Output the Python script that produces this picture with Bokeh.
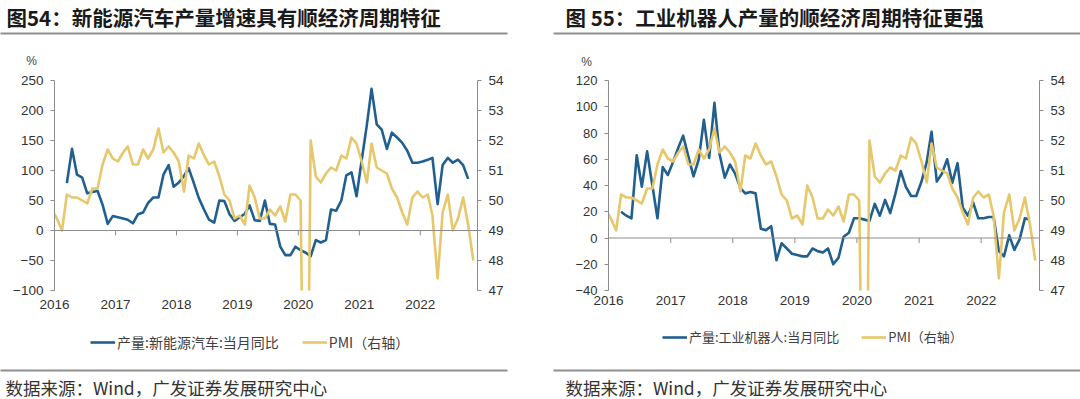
import pandas as pd
from bokeh.plotting import figure
from bokeh.models import (Range1d, LinearAxis, FixedTicker, DatetimeTickFormatter,
                          Legend, LegendItem, Span, Label)
from bokeh.layouts import row, column
from bokeh.embed import file_html
from bokeh.resources import INLINE

# ---------------- data ----------------
years = ["2016", "2017", "2018", "2019", "2020", "2021", "2022"]

pmi_first_month = "2015-12"
pmi = [49.7,
       49.4, 49.0, 50.2, 50.1, 50.1, 50.0, 49.9, 50.4, 50.4, 51.2, 51.7, 51.4,
       51.3, 51.6, 51.8, 51.2, 51.2, 51.7, 51.4, 51.7, 52.4, 51.6, 51.8, 51.6,
       51.3, 50.3, 51.5, 51.4, 51.9, 51.5, 51.2, 51.3, 50.8, 50.2, 50.0, 49.4,
       49.5, 49.2, 50.5, 50.1, 49.4, 49.4, 49.7, 49.5, 49.8, 49.3, 50.2, 50.2,
       50.0, 35.7, 52.0, 50.8, 50.6, 50.9, 51.1, 51.0, 51.5, 51.4, 52.1, 51.9,
       51.3, 50.6, 51.9, 51.1, 51.0, 50.9, 50.4, 50.1, 49.6, 49.2, 50.1, 50.3,
       50.1, 50.2, 49.5, 47.4, 49.6, 50.2, 49.0, 49.4, 50.1, 49.2, 48.0]

yoy_first_month = "2016-03"
nev_yoy = [79, 136, 93, 88, 62, 64, 66, 43, 11, 24,
           22, 20, 18, 12, 27, 30, 46, 55, 55, 93, 109, 73,
           80, 91, 104, 79, 54, 35, 18, 13, 50, 49, 27, 16,
           22, 28, 42, 17, 16, 50, 11, 10, -27, -41, -41, -27,
           -33, -37, -43, -16, -20, -16, 35, 33, 50, 92, 97, 57,
           117, 176, 236, 177, 168, 136, 163, 155, 146, 133, 113, 113,
           115, 118, 121, 44, 109, 121, 113, 118, 109, 86]

robot_yoy = [20, 17, 15, 63, 39, 66, 40, 15, 54, 48,
             58, 69, 78, 62, 47, 60, 90, 61, 103, 64, 46, 56,
             49, 38, 34, 35, 34, 7, 6, 9, -17, -4, -8, -12,
             -13, -14, -14, -8, -10, -11, -8, -20, -15, 1, 4, 15,
             15, 14, 13, 26, 17, 29, 19, 34, 51, 39, 32, 32,
             43, 58, 81, 43, 49, 60, 42, 57, 23, 17, 27, 15,
             15, 16, 16, -10, -14, 2, -9, -1, 15, 14]

titles = ["图54：新能源汽车产量增速具有顺经济周期特征", "图 55：工业机器人产量的顺经济周期特征更强"]
series_names = ["产量:新能源汽车:当月同比", "产量:工业机器人:当月同比"]
pmi_name = "PMI（右轴）"
source_text = "数据来源：Wind，广发证券发展研究中心"
unit_text = "%"

left_ticks_a = [-100, -50, 0, 50, 100, 150, 200, 250]
left_ticks_b = [-40, -20, 0, 20, 40, 60, 80, 100, 120]
pmi_ticks = [47, 48, 49, 50, 51, 52, 53, 54]

# ---------------- styling / helpers ----------------
BLUE = "#215F8F"
GOLD = "#E6C76C"
AXIS = "#8C8C8C"
RULE = "#8F8F8F"
LAT = "Liberation Sans"
CJK = "Noto Sans CJK SC"
LW = 2.6

W = 540
HEAD_H = 70
FIG_H = 252
FOOT_H = 77


def month_dates(first, n):
    return pd.date_range(first + "-01", periods=n, freq="MS") + pd.Timedelta(days=14)


pmi_x = month_dates(pmi_first_month, len(pmi))
yoy_x = month_dates(yoy_first_month, len(nev_yoy))
year_dates = [pd.Timestamp(y + "-01-01") for y in years]
year_ms = [d.value / 1e6 for d in year_dates]


def canvas(h):
    """A plain pixel-space figure (y grows downward) for titles, legend and notes."""
    p = figure(width=W, height=h, x_range=Range1d(0, W), y_range=Range1d(h, 0),
               min_border=0, toolbar_location=None, x_axis_location=None,
               y_axis_location=None, output_backend="svg")
    p.outline_line_color = None
    p.grid.visible = False
    p.background_fill_color = "white"
    p.border_fill_color = "white"
    return p


def chart(yoy, yrange, yticks, borders, lab_font, xstd):
    bl, br, bt, bb = borders
    p = figure(width=W, height=FIG_H, x_axis_type="datetime",
               x_range=Range1d(pd.Timestamp("2016-01-01"), pd.Timestamp("2022-12-10")),
               y_range=Range1d(*yrange), output_backend="svg", toolbar_location=None,
               min_border_left=bl, min_border_right=br, min_border_top=bt, min_border_bottom=bb)
    p.outline_line_color = None
    p.grid.visible = False
    p.background_fill_color = "white"
    p.border_fill_color = "white"
    p.extra_y_ranges = {"pmi": Range1d(47, 54)}

    # zero line with downward year ticks
    p.add_layout(Span(location=0, dimension="width", line_color=AXIS, line_width=1))
    frame_h = FIG_H - bt - bb
    tick_len = 5 * (yrange[1] - yrange[0]) / frame_h
    p.segment(x0=year_dates[1:], y0=0, x1=year_dates[1:], y1=-tick_len,
              line_color=AXIS, line_width=1)

    p.line(yoy_x, yoy, line_color=BLUE, line_width=LW, line_join="round")
    p.line(pmi_x, pmi, line_color=GOLD, line_width=LW, line_join="round", y_range_name="pmi")

    ya = p.yaxis[0]
    ya.ticker = FixedTicker(ticks=yticks)
    ra = LinearAxis(y_range_name="pmi", ticker=FixedTicker(ticks=pmi_ticks))
    p.add_layout(ra, "right")
    for ax in (ya, ra):
        ax.axis_line_color = AXIS
        ax.major_tick_line_color = AXIS
        ax.major_tick_out = 4
        ax.major_tick_in = 0
        ax.minor_tick_line_color = None
        ax.major_label_text_font = LAT
        ax.major_label_text_font_size = lab_font
        ax.major_label_text_color = "#333333"
        ax.major_label_standoff = 7

    xa = p.xaxis[0]
    xa.ticker = FixedTicker(ticks=year_ms)
    xa.formatter = DatetimeTickFormatter(years="%Y", months="%Y", days="%Y", hours="%Y",
                                         hourmin="%Y", minutes="%Y", minsec="%Y", seconds="%Y")
    xa.axis_line_color = None
    xa.major_tick_line_color = None
    xa.major_tick_out = 0
    xa.major_tick_in = 0
    xa.minor_tick_line_color = None
    xa.major_label_text_font = LAT
    xa.major_label_text_font_size = "13.5px"
    xa.major_label_text_color = "#333333"
    xa.major_label_standoff = xstd
    return p


def header(title, title_x, rule_x0, pct_xy):
    p = canvas(HEAD_H)
    p.add_layout(Label(x=title_x, y=16.5, text=title, text_font=CJK, text_font_size="20.5px",
                       text_font_style="bold", text_color="#1A1A1A",
                       text_baseline="middle", text_align="left"))
    p.segment(x0=[rule_x0], y0=[33], x1=[rule_x0 + 527], y1=[33], line_color=RULE, line_width=2)
    p.add_layout(Label(x=pct_xy[0], y=pct_xy[1], text=unit_text, text_font=LAT,
                       text_font_size="12px", text_color="#444444",
                       text_baseline="middle", text_align="center"))
    return p


def footer(name, leg_loc, leg_font, spacing, src_x, rule_x0):
    p = canvas(FOOT_H)
    # legend samples (hidden renderers only feed the legend's glyphs)
    r1 = p.line(yoy_x, nev_yoy, line_color=BLUE, line_width=LW, visible=False)
    r2 = p.line(pmi_x, pmi, line_color=GOLD, line_width=LW, visible=False)
    legend = Legend(items=[LegendItem(label=name, renderers=[r1]),
                           LegendItem(label=pmi_name, renderers=[r2])],
                    location=leg_loc, orientation="horizontal",
                    label_text_font=CJK, label_text_font_size=leg_font,
                    label_text_color="#404040", glyph_width=25, glyph_height=18,
                    label_height=18, label_standoff=2, spacing=spacing,
                    padding=0, margin=0, border_line_color=None,
                    background_fill_alpha=0)
    p.add_layout(legend)
    p.segment(x0=[rule_x0], y0=[48], x1=[rule_x0 + 527], y1=[48], line_color=RULE, line_width=2)
    p.add_layout(Label(x=src_x, y=65, text=source_text, text_font=CJK, text_font_size="17.5px",
                       text_color="#333333", text_baseline="middle", text_align="left"))
    return p


h1 = header(titles[0], 6, -20, (31, 60.5))
h2 = header(titles[1], 25, 13, (46, 61.7))

p1 = chart(nev_yoy, (-100, 250), left_ticks_a, (54, 63, 10, 28), "13.5px", 9)
p2 = chart(robot_yoy, (-40, 120), left_ticks_b, (68, 41, 9, 32), "13px", 5)

f1 = footer(series_names[0], (90, 47), "14px", 23, 5, -20)
f2 = footer(series_names[1], (122, 53), "13px", 22, 25, 13)

layout = column(row(h1, h2), row(p1, p2), row(f1, f2))
open("out.html", "w").write(file_html(layout, INLINE))
